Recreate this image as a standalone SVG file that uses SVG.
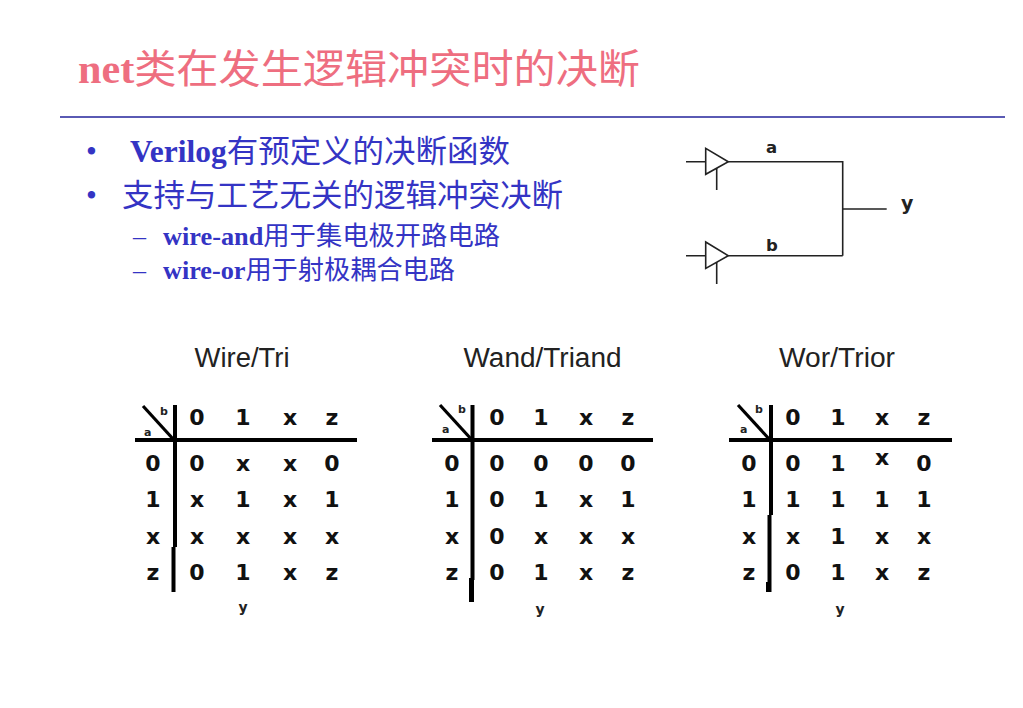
<svg xmlns="http://www.w3.org/2000/svg" width="1023" height="708" viewBox="0 0 1023 708">
<style>
.title{font-family:"Liberation Serif","Noto Sans CJK SC",serif;font-size:40px;fill:#EE6E80}
.cjk{font-family:"Noto Sans CJK SC",sans-serif;font-weight:normal}
.lat{font-family:"Liberation Serif",serif;font-weight:bold}
.blue{fill:#3434C4}
.b1{font-size:31px}
.b2{font-size:26px}
.wire{stroke:#222;stroke-width:1.6;fill:none}
.lbl{font-family:"DejaVu Sans",sans-serif;font-weight:bold;fill:#222}
.hdr{font-family:"Liberation Sans",Arial,sans-serif;font-size:27px;fill:#222;text-anchor:middle}
.cell{font-family:"DejaVu Sans",sans-serif;font-weight:bold;font-size:22px;fill:#111;text-anchor:middle}
.small{font-family:"DejaVu Sans",sans-serif;font-weight:bold;font-size:11px;fill:#222}
.ylab{font-family:"DejaVu Sans",sans-serif;font-weight:bold;font-size:14px;fill:#222;text-anchor:middle}
.rule{stroke:#000;stroke-width:4;fill:none}
.diag{stroke:#000;stroke-width:3.2;fill:none}
</style>
<rect width="1023" height="708" fill="#fff"/>

<g id="title">
<text class="title" x="78" y="83" textLength="562" lengthAdjust="spacingAndGlyphs"><tspan class="lat">net</tspan><tspan class="cjk">类在发生逻辑冲突时的决断</tspan></text>
<line x1="60" y1="117" x2="1005" y2="117" stroke="#5A5AB4" stroke-width="2"/>
</g>

<g id="bullets" class="blue">
<text x="86" y="162" class="b1" font-family="Liberation Serif,serif">•</text>
<text x="130" y="162" class="b1" textLength="380" lengthAdjust="spacingAndGlyphs"><tspan class="lat">Verilog</tspan><tspan class="cjk">有预定义的决断函数</tspan></text>
<text x="86" y="206" class="b1" font-family="Liberation Serif,serif">•</text>
<text x="122" y="206" class="b1 cjk" textLength="441" lengthAdjust="spacingAndGlyphs">支持与工艺无关的逻辑冲突决断</text>
<text x="133" y="245" class="b2" font-family="Liberation Serif,serif">–</text>
<text x="163" y="245" class="b2" textLength="337" lengthAdjust="spacingAndGlyphs"><tspan class="lat">wire-and</tspan><tspan class="cjk">用于集电极开路电路</tspan></text>
<text x="133" y="279" class="b2" font-family="Liberation Serif,serif">–</text>
<text x="163" y="279" class="b2" textLength="292" lengthAdjust="spacingAndGlyphs"><tspan class="lat">wire-or</tspan><tspan class="cjk">用于射极耦合电路</tspan></text>
</g>

<g id="buffer-a">
<polygon points="705.7,148.3 705.7,174.3 728.3,161.7" class="wire"/>
<text x="766" y="153" class="lbl" style="font-size:16.5px">a</text>
</g>
<g id="buffer-b">
<polygon points="705.7,242 705.7,268.5 728.3,255.7" class="wire"/>
<text x="766" y="251" class="lbl" style="font-size:16.5px">b</text>
</g>
<g id="out-y">
<text x="901" y="210" class="lbl" style="font-size:19px">y</text>
</g>
<g id="connectors">
<path class="wire" d="M686,161.7H705.7 M716.7,168V190 M728.3,161.7H842.7V255.7 M686,255.7H705.7 M716.7,262V284 M728.3,255.7H842.7 M842.7,209H886.7"/>
</g>

<g id="table-wire">
<text x="242" y="367" class="hdr" textLength="95" lengthAdjust="spacingAndGlyphs">Wire/Tri</text>
<line class="rule" x1="135" y1="440" x2="357" y2="440"/>
<line class="rule" x1="175" y1="405" x2="175" y2="547"/>
<line class="rule" x1="173.5" y1="547" x2="173.5" y2="592"/>
<line class="diag" x1="143" y1="406" x2="174" y2="440"/>
<text x="160" y="415" class="small">b</text>
<text x="144" y="436" class="small">a</text>
<g class="cell">
<text x="197" y="425">0</text><text x="243" y="425">1</text><text x="290" y="425">x</text><text x="332" y="425">z</text>
<text x="153" y="471">0</text><text x="197" y="471">0</text><text x="243" y="471">x</text><text x="290" y="471">x</text><text x="332" y="471">0</text>
<text x="153" y="507">1</text><text x="197" y="507">x</text><text x="243" y="507">1</text><text x="290" y="507">x</text><text x="332" y="507">1</text>
<text x="153" y="544">x</text><text x="197" y="544">x</text><text x="243" y="544">x</text><text x="290" y="544">x</text><text x="332" y="544">x</text>
<text x="153" y="580">z</text><text x="197" y="580">0</text><text x="243" y="580">1</text><text x="290" y="580">x</text><text x="332" y="580">z</text>
</g>
<text x="243" y="612" class="ylab">y</text>
</g>

<g id="table-wand">
<text x="542.5" y="367" class="hdr" textLength="158" lengthAdjust="spacingAndGlyphs">Wand/Triand</text>
<line class="rule" x1="432" y1="440" x2="653" y2="440"/>
<line class="rule" x1="472.5" y1="405" x2="472.5" y2="580"/>
<line x1="471.5" y1="578" x2="471.5" y2="602" stroke="#000" stroke-width="5"/>
<line class="diag" x1="440" y1="405" x2="472" y2="440"/>
<text x="458" y="413" class="small">b</text>
<text x="442" y="433" class="small">a</text>
<g class="cell">
<text x="497" y="425">0</text><text x="541" y="425">1</text><text x="586" y="425">x</text><text x="628" y="425">z</text>
<text x="452" y="471">0</text><text x="497" y="471">0</text><text x="541" y="471">0</text><text x="586" y="471">0</text><text x="628" y="471">0</text>
<text x="452" y="507">1</text><text x="497" y="507">0</text><text x="541" y="507">1</text><text x="586" y="507">x</text><text x="628" y="507">1</text>
<text x="452" y="544">x</text><text x="497" y="544">0</text><text x="541" y="544">x</text><text x="586" y="544">x</text><text x="628" y="544">x</text>
<text x="452" y="580">z</text><text x="497" y="580">0</text><text x="541" y="580">1</text><text x="586" y="580">x</text><text x="628" y="580">z</text>
</g>
<text x="540" y="614" class="ylab">y</text>
</g>

<g id="table-wor">
<text x="837" y="367" class="hdr" textLength="116" lengthAdjust="spacingAndGlyphs">Wor/Trior</text>
<line class="rule" x1="729" y1="440" x2="952" y2="440"/>
<line class="rule" x1="771" y1="405" x2="771" y2="515"/>
<line class="rule" x1="769.5" y1="515" x2="769.5" y2="592"/>
<line x1="768.5" y1="582" x2="768.5" y2="592" stroke="#000" stroke-width="5"/>
<line class="diag" x1="738" y1="405" x2="770" y2="440"/>
<text x="755" y="413" class="small">b</text>
<text x="740" y="433" class="small">a</text>
<g class="cell">
<text x="793" y="425">0</text><text x="838" y="425">1</text><text x="882" y="425">x</text><text x="924" y="425">z</text>
<text x="749" y="471">0</text><text x="793" y="471">0</text><text x="838" y="471">1</text><text x="882" y="465">x</text><text x="924" y="471">0</text>
<text x="749" y="507">1</text><text x="793" y="507">1</text><text x="838" y="507">1</text><text x="882" y="507">1</text><text x="924" y="507">1</text>
<text x="749" y="544">x</text><text x="793" y="544">x</text><text x="838" y="544">1</text><text x="882" y="544">x</text><text x="924" y="544">x</text>
<text x="749" y="580">z</text><text x="793" y="580">0</text><text x="838" y="580">1</text><text x="882" y="580">x</text><text x="924" y="580">z</text>
</g>
<text x="840" y="614" class="ylab">y</text>
</g>
</svg>
